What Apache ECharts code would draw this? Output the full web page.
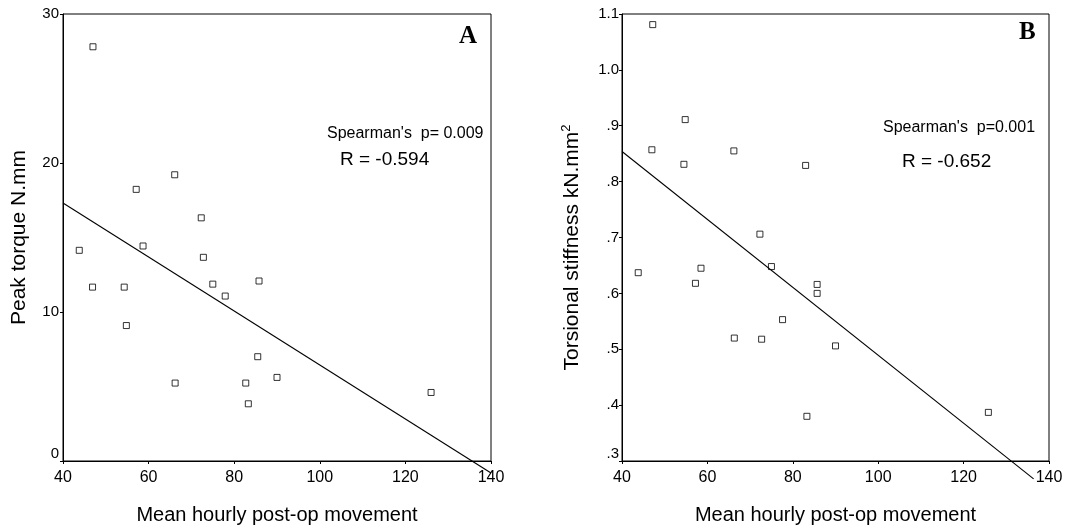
<!DOCTYPE html>
<html style="height: 100%">
   <head>
       <meta charset="utf-8">
       <script type="text/javascript" src="https://cdn.jsdelivr.net/npm/echarts/dist/echarts.min.js"></script>
   </head>
   <body style="height: 100%; margin: 0; background: #fff">
       <div id="container" style="width: 1074px; height: 530px"></div>
   </body>
</html>
<script type="text/javascript">
    var chart = echarts.init(document.getElementById("container"));

    // mean hourly post-op movement (x) and the two outcomes
    var movementA = [47.0, 43.8, 46.9, 54.3, 54.8, 57.1, 58.7, 66.1, 66.2, 72.3, 72.8, 75.0, 77.9, 85.8, 85.5, 82.7, 83.3, 90.0, 126.0];
    var peakTorque = [27.8, 14.14, 11.67, 11.67, 9.09, 18.23, 14.43, 19.21, 5.23, 16.32, 13.67, 11.87, 11.07, 12.08, 7.0, 5.23, 3.84, 5.61, 4.6];

    var movementB = [47.2, 43.8, 47.0, 54.5, 54.8, 57.2, 58.5, 66.2, 66.3, 72.3, 72.7, 75.0, 77.6, 83.0, 83.3, 85.7, 85.7, 90.0, 125.8];
    var stiffness = [1.081, 0.637, 0.857, 0.831, 0.911, 0.618, 0.645, 0.855, 0.520, 0.706, 0.518, 0.648, 0.553, 0.829, 0.380, 0.616, 0.600, 0.506, 0.387];

    // fitted regression line end points
    var fitA = [[40, 17.32], [140, -0.80]];
    var fitB = [[40, 0.854], [136.4, 0.268]];

    function pairs(xs, ys) {
        var out = [];
        for (var i = 0; i < xs.length; i++) out.push([xs[i], ys[i]]);
        return out;
    }

    var font = 'Liberation Sans, Arial, sans-serif';

    function xAxis(idx) {
        return {
            gridIndex: idx, type: 'value', min: 40, max: 140, interval: 20,
            name: 'Mean hourly post-op movement', nameLocation: 'middle', nameGap: 44,
            nameTextStyle: { fontFamily: font, fontSize: 20, color: '#000' },
            axisLine: { lineStyle: { color: '#000', width: 1 } },
            axisTick: { length: 3, lineStyle: { color: '#000' } },
            axisLabel: { fontFamily: font, fontSize: 16, color: '#000', margin: 9 },
            splitLine: { show: false }
        };
    }

    // the lowest y label sits a little above its tick in the original
    function yLabel(text, isMin) {
        return isMin ? '{low|' + text + '}' : text;
    }
    var yRich = { low: { fontFamily: font, fontSize: 15, color: '#000', padding: [0, 0, 15, 0] } };

    option = {
        backgroundColor: '#fff',
        animation: false,
        grid: [
            { left: 63, right: 583, top: 14, bottom: 65, show: true, borderColor: '#000', borderWidth: 1 },
            { left: 622, right: 25, top: 14, bottom: 65, show: true, borderColor: '#000', borderWidth: 1 }
        ],
        xAxis: [xAxis(0), xAxis(1)],
        yAxis: [
            {
                gridIndex: 0, type: 'value', min: 0, max: 30, interval: 10,
                name: 'Peak torque N.mm', nameLocation: 'middle', nameGap: 33,
                nameTextStyle: { fontFamily: font, fontSize: 21, color: '#000' },
                axisLine: { lineStyle: { color: '#000' } },
                axisTick: { length: 3, lineStyle: { color: '#000' } },
                axisLabel: {
                    fontFamily: font, fontSize: 15, color: '#000', margin: 4, rich: yRich,
                    formatter: function (v) { return yLabel(String(v), v === 0); }
                },
                splitLine: { show: false }
            },
            {
                gridIndex: 1, type: 'value', min: 0.3, max: 1.1, interval: 0.1,
                name: '{n|Torsional stiffness kN.mm}{s|2}', nameLocation: 'middle', nameGap: 38,
                nameTextStyle: {
                    fontFamily: font, fontSize: 21, color: '#000', padding: [0, 20, 0, 0],
                    rich: {
                        n: { fontFamily: font, fontSize: 21, color: '#000', lineHeight: 24 },
                        s: { fontFamily: font, fontSize: 13, color: '#000', verticalAlign: 'top', lineHeight: 24 }
                    }
                },
                axisLine: { lineStyle: { color: '#000' } },
                axisTick: { length: 3, lineStyle: { color: '#000' } },
                axisLabel: {
                    fontFamily: font, fontSize: 15, color: '#000', margin: 3, rich: yRich,
                    formatter: function (v) {
                        var s = v.toFixed(1);
                        if (s.charAt(0) === '0') s = s.substring(1);
                        return yLabel(s, Math.abs(v - 0.3) < 1e-6);
                    }
                },
                splitLine: { show: false }
            }
        ],
        series: [
            {
                type: 'scatter', xAxisIndex: 0, yAxisIndex: 0,
                data: pairs(movementA, peakTorque),
                symbol: 'rect', symbolSize: 6,
                itemStyle: { color: '#fff', borderColor: '#000', borderWidth: 1 }
            },
            {
                type: 'line', xAxisIndex: 0, yAxisIndex: 0, data: fitA,
                showSymbol: false, clip: false,
                lineStyle: { color: '#000', width: 1.1 }
            },
            {
                type: 'scatter', xAxisIndex: 1, yAxisIndex: 1,
                data: pairs(movementB, stiffness),
                symbol: 'rect', symbolSize: 6,
                itemStyle: { color: '#fff', borderColor: '#000', borderWidth: 1 }
            },
            {
                type: 'line', xAxisIndex: 1, yAxisIndex: 1, data: fitB,
                showSymbol: false, clip: false,
                lineStyle: { color: '#000', width: 1.1 }
            }
        ],
        graphic: [
            { type: 'text', left: 459, top: 24, style: { text: 'A', font: 'bold 25px Liberation Serif', fill: '#000' } },
            { type: 'text', left: 327, top: 126, style: { text: "Spearman's  p= 0.009", font: '16px Liberation Sans', fill: '#000' } },
            { type: 'text', left: 340, top: 150, style: { text: 'R = -0.594', font: '19px Liberation Sans', fill: '#000' } },
            { type: 'text', left: 1019, top: 20, style: { text: 'B', font: 'bold 25px Liberation Serif', fill: '#000' } },
            { type: 'text', left: 883, top: 120, style: { text: "Spearman's  p=0.001", font: '16px Liberation Sans', fill: '#000' } },
            { type: 'text', left: 902, top: 152, style: { text: 'R = -0.652', font: '19px Liberation Sans', fill: '#000' } }
        ]
    };

    if (option && typeof option === "object") {
        chart.setOption(option, true);
    }
</script>
